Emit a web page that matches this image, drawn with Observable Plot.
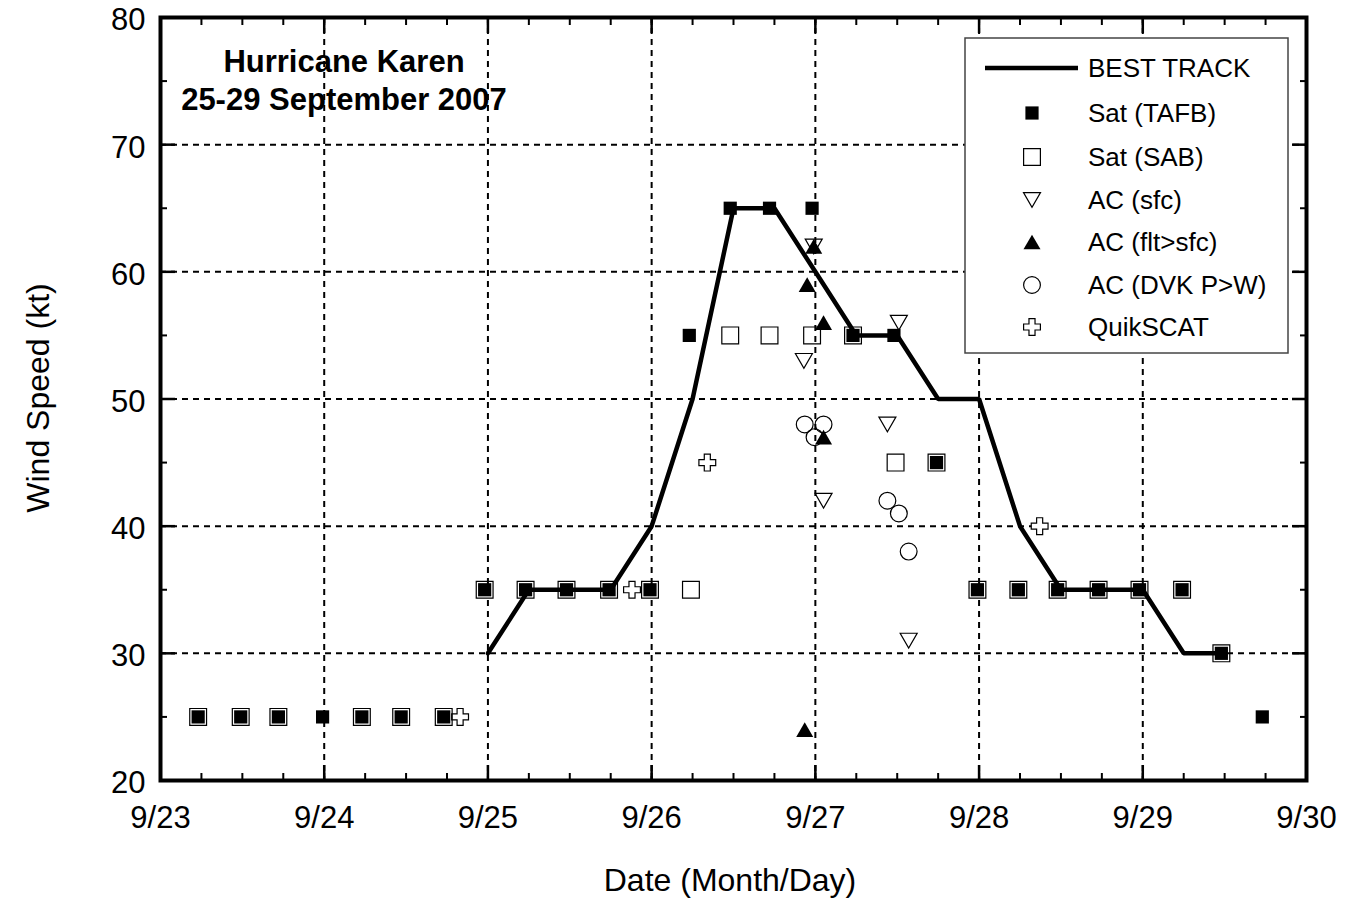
<!DOCTYPE html>
<html><head><meta charset="utf-8">
<script src="https://cdn.jsdelivr.net/npm/d3@7"></script>
<script src="https://cdn.jsdelivr.net/npm/@observablehq/plot@0.6"></script>
<style>body{margin:0;background:#fff}</style>
</head><body><div id="chart"></div>
<script>
// ---- data (day of September 2007, wind speed kt) ----
const bestDay = [25,25.25,25.5,25.75,26,26.25,26.5,26.75,27,27.25,27.5,27.75,28,28.25,28.5,28.75,29,29.25,29.5];
const bestKt  = [30,35,35,35,40,50,65,65,60,55,55,50,50,40,35,35,35,30,30];

const tafbDay = [23.23,23.49,23.72,23.99,24.23,24.47,24.73,24.98,25.23,25.48,25.74,25.99,26.23,26.48,26.72,26.98,27.23,27.48,27.74,27.99,28.24,28.48,28.73,28.98,29.24,29.48,29.73];
const tafbKt  = [25,25,25,25,25,25,25,35,35,35,35,35,55,65,65,65,55,55,45,35,35,35,35,35,35,30,25];

const sabDay = [23.23,23.49,23.72,24.23,24.47,24.73,24.98,25.23,25.48,25.74,25.99,26.24,26.48,26.72,26.98,27.23,27.49,27.74,27.99,28.24,28.48,28.73,28.98,29.24,29.48];
const sabKt  = [25,25,25,25,25,25,35,35,35,35,35,35,55,55,55,55,45,45,35,35,35,35,35,35,30];

const sfcDay = [26.93,26.99,27.05,27.44,27.51,27.57];
const sfcKt  = [53,62,42,48,56,31];

const fltDay = [26.935,26.95,26.99,27.05,27.05];
const fltKt  = [24,59,62,56,47];

const dvkDay = [26.935,27.05,26.995,27.44,27.51,27.57];
const dvkKt  = [48,48,47,42,41,38];

const qsDay = [24.83,25.88,26.34,28.37];
const qsKt  = [25,35,45,40];

const dayTicks = [23,24,25,26,27,28,29,30];
const dayLabels = ["9/23","9/24","9/25","9/26","9/27","9/28","9/29","9/30"];
const ktTicks = [20,30,40,50,60,70,80];
const ktLabels = ["20","30","40","50","60","70","80"];
const dayGrid = [24,25,26,27,28,29];
const ktGrid = [30,40,50,60,70];
const dayMinor = d3.range(23, 30.001, 0.25);
const ktMinor = [25,35,45,55,65,75];

const legendLabels = ["BEST TRACK","Sat (TAFB)","Sat (SAB)","AC (sfc)","AC (flt>sfc)","AC (DVK P>W)","QuikSCAT"];

// ---- helpers ----
const zip = (xs, ys) => xs.map((x, i) => ({day: x, kt: ys[i]}));
const best = zip(bestDay, bestKt), tafb = zip(tafbDay, tafbKt), sab = zip(sabDay, sabKt),
      sfc = zip(sfcDay, sfcKt), flt = zip(fltDay, fltKt), dvk = zip(dvkDay, dvkKt), qs = zip(qsDay, qsKt);

const R = s => Math.sqrt(s / Math.PI);
const symSquare = {draw(c, s){const r=R(s); c.moveTo(-r,-r); c.lineTo(r,-r); c.lineTo(r,r); c.lineTo(-r,r); c.closePath();}};
const symTriDown = {draw(c, s){const r=R(s), h=r*Math.sqrt(3)/2; c.moveTo(-r,-h); c.lineTo(r,-h); c.lineTo(0,h); c.closePath();}};
const symTriUp = {draw(c, s){const r=R(s), h=r*Math.sqrt(3)/2; c.moveTo(-r,h); c.lineTo(r,h); c.lineTo(0,-h); c.closePath();}};
const symCircle = {draw(c, s){const r=R(s); c.moveTo(r,0); c.arc(0,0,r,0,2*Math.PI); c.closePath();}};
const symPlus = {draw(c, s){const r=R(s), a=r*0.36;
  const p=[[-a,-r],[a,-r],[a,-a],[r,-a],[r,a],[a,a],[a,r],[-a,r],[-a,a],[-r,a],[-r,-a],[-a,-a]];
  c.moveTo(p[0][0],p[0][1]); for (let i=1;i<p.length;i++) c.lineTo(p[i][0],p[i][1]); c.closePath();}};

const font = "'Liberation Sans', Arial, Helvetica, sans-serif";
const gridStyle = {stroke: "#000", strokeOpacity: 1, strokeWidth: 2, strokeDasharray: "6,5"};

const styles = [
  {sym: symSquare, r: 6.6, fill: "#000", stroke: "none", sw: 0},
  {sym: symSquare, r: 8.4, fill: "none", stroke: "#000", sw: 1.2},
  {sym: symTriDown, r: 8.5, fill: "none", stroke: "#000", sw: 1.2},
  {sym: symTriUp, r: 8.5, fill: "#000", stroke: "none", sw: 0},
  {sym: symCircle, r: 8.4, fill: "none", stroke: "#000", sw: 1.2},
  {sym: symPlus, r: 8.4, fill: "#fff", stroke: "#000", sw: 1.2}
];
const dotOpts = (st) => ({x: "day", y: "kt", symbol: st.sym, r: st.r, fill: st.fill, stroke: st.stroke, strokeWidth: st.sw});

const chart = Plot.plot({
  width: 1346, height: 900,
  marginLeft: 160, marginRight: 40, marginTop: 17, marginBottom: 120,
  x: {domain: [23, 30]},
  y: {domain: [20, 80]},
  style: {fontFamily: font, fontSize: "31px", background: "#fff", color: "#000", overflow: "visible"},
  marks: [
    Plot.gridX(dayGrid, gridStyle),
    Plot.gridY(ktGrid, gridStyle),
    // tick labels
    Plot.axisX(dayTicks, {anchor: "bottom", tickSize: 0, tickPadding: 25, tickFormat: d => dayLabels[dayTicks.indexOf(d)], label: null, fontSize: 31}),
    Plot.axisY(ktTicks, {anchor: "left", tickSize: 0, tickPadding: 15, tickFormat: d => ktLabels[ktTicks.indexOf(d)], label: null, fontSize: 31, dy: 3}),
    // inward ticks
    Plot.axisX(dayMinor, {anchor: "bottom", tickSize: -7, fill: "none", label: null, strokeWidth: 2}),
    Plot.axisX(dayMinor, {anchor: "top", tickSize: -7, fill: "none", label: null, strokeWidth: 2}),
    Plot.axisX(dayTicks, {anchor: "bottom", tickSize: -15, fill: "none", label: null, strokeWidth: 2.5}),
    Plot.axisX(dayTicks, {anchor: "top", tickSize: -15, fill: "none", label: null, strokeWidth: 2.5}),
    Plot.axisY(ktMinor, {anchor: "left", tickSize: -7, fill: "none", label: null, strokeWidth: 2}),
    Plot.axisY(ktMinor, {anchor: "right", tickSize: -7, fill: "none", label: null, strokeWidth: 2}),
    Plot.axisY(ktTicks, {anchor: "left", tickSize: -15, fill: "none", label: null, strokeWidth: 2.5}),
    Plot.axisY(ktTicks, {anchor: "right", tickSize: -15, fill: "none", label: null, strokeWidth: 2.5}),
    // data
    Plot.line(best, {x: "day", y: "kt", stroke: "#000", strokeWidth: 4.5, strokeLinejoin: "miter"}),
    Plot.dot(qs, dotOpts(styles[5])),
    Plot.dot(sab, dotOpts(styles[1])),
    Plot.dot(tafb, dotOpts(styles[0])),
    Plot.dot(sfc, dotOpts(styles[2])),
    Plot.dot(flt, dotOpts(styles[3])),
    Plot.dot(dvk, dotOpts(styles[4])),
    Plot.frame({stroke: "#000", strokeWidth: 4})
  ]
});

document.getElementById("chart").appendChild(chart);

const svg = d3.select(chart);
// storm title
const t = svg.append("text").attr("font-family", font).attr("font-weight", "bold").attr("font-size", 31).attr("text-anchor", "middle").attr("fill", "#000");
t.append("tspan").attr("x", 344).attr("y", 72).text("Hurricane Karen");
t.append("tspan").attr("x", 344).attr("y", 110).text("25-29 September 2007");

// axis titles
svg.append("text").attr("font-family", font).attr("font-size", 32).attr("text-anchor", "middle")
  .attr("x", 730).attr("y", 891).attr("fill", "#000").text("Date (Month/Day)");
svg.append("text").attr("font-family", font).attr("font-size", 32).attr("text-anchor", "middle")
  .attr("transform", "translate(49,398) rotate(-90)").attr("fill", "#000").text("Wind Speed (kt)");

// legend
const lg = svg.append("g").attr("text-anchor", "start");
lg.append("rect").attr("x", 965).attr("y", 38).attr("width", 323).attr("height", 315)
  .attr("fill", "#fff").attr("stroke", "#444").attr("stroke-width", 1.5);
const rowY = [68, 113, 157, 200, 242, 285, 327];
legendLabels.forEach((lab, i) => {
  lg.append("text").attr("x", 1088).attr("y", rowY[i]).attr("dy", "0.36em").attr("text-anchor", "start")
    .attr("font-family", font).attr("font-size", 26).attr("fill", "#000").text(lab);
  if (i === 0) {
    lg.append("line").attr("x1", 985).attr("x2", 1078).attr("y1", rowY[i]).attr("y2", rowY[i])
      .attr("stroke", "#000").attr("stroke-width", 4.5);
  } else {
    const st = styles[i - 1];
    const p = d3.path();
    st.sym.draw(p, Math.PI * st.r * st.r);
    lg.append("path").attr("d", p.toString()).attr("transform", `translate(1032,${rowY[i]})`)
      .attr("fill", st.fill).attr("stroke", st.stroke).attr("stroke-width", st.sw);
  }
});
</script></body></html>
